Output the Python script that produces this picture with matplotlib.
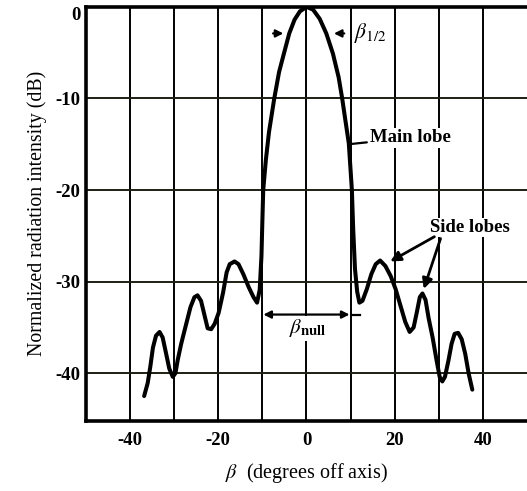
import matplotlib
matplotlib.use("Agg")
import matplotlib.pyplot as plt

plt.rcParams["font.family"] = ["Liberation Serif", "DejaVu Serif"]
plt.rcParams["mathtext.fontset"] = "stix"

# Antenna radiation pattern: angle off axis (deg) vs normalized intensity (dB)
beta = [-36.8, -36.0, -35.4, -34.8, -34.1, -33.3, -32.6, -31.8, -31.1, -30.3,
        -29.7, -29.2, -28.4, -27.3, -26.3, -25.4, -24.7, -23.9, -23.1, -22.4,
        -21.6, -20.8, -19.9, -18.9, -18.1, -17.4, -16.3, -15.4, -14.3, -13.1,
        -12.0, -11.2, -10.6, -10.2, -10.0, -9.8, -9.2, -8.5, -7.3, -6.2,
        -5.0, -3.9, -2.7, -1.5, 0.0, 1.5, 3.0, 4.5, 6.0, 7.3,
        8.1, 8.8, 9.6, 10.0, 10.3, 10.6, 11.0, 11.5, 12.0, 12.7,
        13.7, 14.7, 15.7, 16.7, 17.9, 19.1, 20.2, 21.3, 22.4, 23.4,
        24.3, 25.0, 25.7, 26.3, 27.0, 27.7, 28.6, 29.5, 30.2, 30.8,
        31.4, 32.2, 32.9, 33.6, 34.4, 35.2, 36.0, 36.8, 37.6]
intensity_db = [-42.5, -41.1, -39.3, -37.2, -35.9, -35.5, -36.1, -37.9, -39.5, -40.4,
                -40.0, -38.6, -36.8, -34.7, -32.8, -31.7, -31.5, -32.1, -33.7, -35.1,
                -35.2, -34.6, -33.4, -31.2, -29.0, -28.1, -27.8, -28.1, -29.2, -30.6,
                -31.7, -32.3, -30.9, -27.2, -23.5, -20.0, -16.7, -13.7, -10.0, -7.1,
                -4.9, -2.9, -1.4, -0.5, 0.0, -0.3, -1.3, -2.9, -5.1, -7.7,
                -10.0, -12.3, -14.9, -17.8, -20.0, -24.3, -28.6, -31.1, -32.3, -32.1,
                -30.8, -29.2, -28.1, -27.7, -28.3, -29.4, -30.8, -32.6, -34.4, -35.5,
                -35.0, -33.4, -31.7, -31.3, -32.0, -34.0, -36.1, -38.6, -40.4, -40.9,
                -40.4, -38.6, -36.8, -35.7, -35.6, -36.3, -37.9, -40.1, -41.8]

x_ticks = [-40, -20, 0, 20, 40]
x_grid = [-40, -30, -20, -10, 0, 10, 20, 30, 40]
y_ticks = [0, -10, -20, -30, -40]

fig = plt.figure(figsize=(5.27, 4.91), dpi=100)
ax = fig.add_axes([0.163, 0.143, 0.837, 0.843])

ax.set_xlim(-50, 50)
ax.set_ylim(-45.2, 0)

for xv in x_grid:
    ax.axvline(xv, color="black", lw=1.4, zorder=1)
for yv in y_ticks[1:]:
    ax.axhline(yv, color="#1c1f12", lw=1.4, zorder=1)

ax.plot(beta, intensity_db, color="black", lw=2.9, zorder=3,
        solid_capstyle="round", solid_joinstyle="round")

ax.set_xticks(x_ticks)
ax.set_yticks(y_ticks)
ax.set_xticklabels([str(v) for v in x_ticks], fontsize=13.5, fontweight="bold")
ax.set_yticklabels([str(v) for v in y_ticks], fontsize=13.5, fontweight="bold")
ax.tick_params(axis="x", length=0, pad=8)
ax.tick_params(axis="y", length=0, pad=4)
# Keep the top "0" label just inside the frame, like the printed figure
ax.get_yticklabels()[0].set_verticalalignment("top")

for side in ("left", "bottom", "top"):
    ax.spines[side].set_linewidth(2.6)
ax.spines["right"].set_visible(False)

ax.set_xlabel(r"$\beta$  (degrees off axis)", fontsize=14.5, labelpad=9)
ax.set_ylabel("Normalized radiation intensity (dB)", fontsize=14.3, labelpad=6)

# Half-power beamwidth markers
arrow_kw = dict(arrowstyle="-|>", color="black", lw=1.6, mutation_scale=11)
ax.annotate("", xy=(-4.6, -2.9), xytext=(-8.2, -2.9), arrowprops=arrow_kw, zorder=4)
ax.annotate("", xy=(5.6, -2.9), xytext=(9.2, -2.9), arrowprops=arrow_kw, zorder=4)
ax.text(10.8, -2.9, r"$\beta_{1/2}$", fontsize=15.5, va="center", ha="left")

# Null-to-null beamwidth
ax.annotate("", xy=(-10.4, -33.6), xytext=(10.4, -33.6),
            arrowprops=dict(arrowstyle="<|-|>", color="black", lw=1.6,
                            mutation_scale=11), zorder=4)
ax.plot([10.4, 12.2], [-33.6, -33.6], color="black", lw=1.6, zorder=4)
ax.text(0.2, -35.1, r"$\beta_{\mathbf{null}}$", fontsize=15, ha="center", va="center",
        bbox=dict(facecolor="white", edgecolor="none", pad=1), zorder=4)

# Main lobe label
ax.annotate("Main lobe", xy=(9.6, -15.0), xytext=(14.3, -14.3),
            fontsize=13.5, fontweight="bold", va="center", ha="left",
            arrowprops=dict(arrowstyle="-", color="black", lw=1.6,
                            shrinkA=1, shrinkB=0),
            bbox=dict(facecolor="white", edgecolor="none", pad=1), zorder=4)

# Side lobes label with two arrows
ax.text(37.0, -24.1, "Side lobes", fontsize=13.5, fontweight="bold",
        ha="center", va="center",
        bbox=dict(facecolor="white", edgecolor="none", pad=1), zorder=4)
side_kw = dict(arrowstyle="-|>", color="black", lw=2.0, mutation_scale=15,
               shrinkA=0, shrinkB=0)
ax.annotate("", xy=(19.0, -27.8), xytext=(29.0, -25.1), arrowprops=side_kw, zorder=4)
ax.annotate("", xy=(26.6, -30.8), xytext=(30.4, -25.3), arrowprops=side_kw, zorder=4)

fig.savefig("out.png", dpi=100)
